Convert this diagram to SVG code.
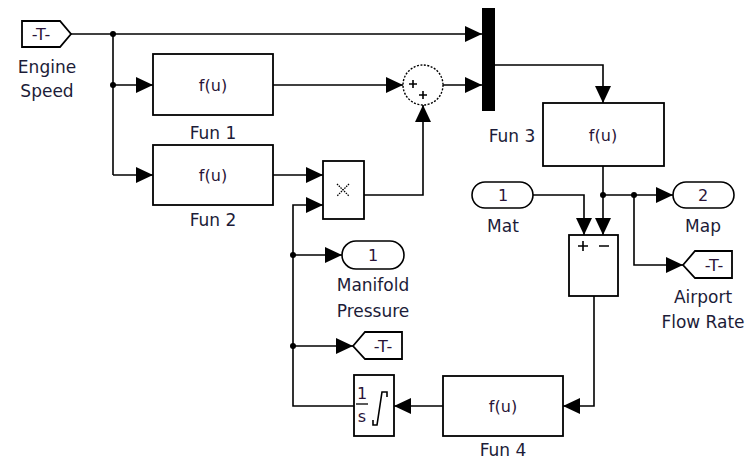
<svg xmlns="http://www.w3.org/2000/svg" width="751" height="461" viewBox="0 0 751 461">
<defs>
<style>
.blk{fill:#fff;stroke:#000;stroke-width:1.8}
.ln{fill:none;stroke:#000;stroke-width:1.6}
.lbl{font-family:"DejaVu Sans",sans-serif;font-size:17px;fill:#1c1c38;text-anchor:middle;dominant-baseline:central}
.in{font-family:"DejaVu Sans",sans-serif;font-size:16px;fill:#2a1438;text-anchor:middle;dominant-baseline:central}
.port{fill:#fff;stroke:#000;stroke-width:1.6}
.jn{fill:#000}
</style>
<marker id="ar" markerUnits="userSpaceOnUse" markerWidth="17" markerHeight="16" refX="17" refY="8" orient="auto">
<path d="M0,0 L17,8 L0,16 z" fill="#000"/>
</marker>
</defs>
<rect width="751" height="461" fill="#fff"/>

<g id="connectors">
<path class="ln" d="M71,34 H482" marker-end="url(#ar)"/>
<path class="ln" d="M113,34 V175"/>
<path class="ln" d="M113,85 H153" marker-end="url(#ar)"/>
<path class="ln" d="M113,175 H153" marker-end="url(#ar)"/>
<path class="ln" d="M273,85 H403" marker-end="url(#ar)"/>
<path class="ln" d="M443,85 H482" marker-end="url(#ar)"/>
<path class="ln" d="M273,175 H323" marker-end="url(#ar)"/>
<path class="ln" d="M364,195 H423 V105" marker-end="url(#ar)"/>
<path class="ln" d="M495,65 H603 V103" marker-end="url(#ar)"/>
<path class="ln" d="M603,166 V235" marker-end="url(#ar)"/>
<path class="ln" d="M603,195 H673" marker-end="url(#ar)"/>
<path class="ln" d="M634,195 V265 H683" marker-end="url(#ar)"/>
<path class="ln" d="M533,195 H584 V235" marker-end="url(#ar)"/>
<path class="ln" d="M594,296 V406 H563" marker-end="url(#ar)"/>
<path class="ln" d="M443,406 H394" marker-end="url(#ar)"/>
<path class="ln" d="M354,406 H293 V205 H323" marker-end="url(#ar)"/>
<path class="ln" d="M293,255 H342" marker-end="url(#ar)"/>
<path class="ln" d="M293,346 H353" marker-end="url(#ar)"/>
<circle class="jn" cx="113" cy="34" r="3"/>
<circle class="jn" cx="113" cy="85" r="3"/>
<circle class="jn" cx="603" cy="195" r="3"/>
<circle class="jn" cx="634" cy="195" r="3"/>
<circle class="jn" cx="293" cy="255" r="3"/>
<circle class="jn" cx="293" cy="346" r="3"/>
</g>

<g id="engine-speed">
<polygon class="blk" points="22,21 60,21 71,34 60,47 22,47"/>
<text class="in" x="41" y="34">-T-</text>
<text class="lbl" x="47" y="67">Engine</text>
<text class="lbl" x="47" y="91">Speed</text>
</g>

<g id="fun1">
<rect class="blk" x="153" y="54" width="120" height="61"/>
<text class="in" x="213" y="85">f(u)</text>
<text class="lbl" x="213" y="133">Fun 1</text>
</g>

<g id="fun2">
<rect class="blk" x="153" y="145" width="120" height="60"/>
<text class="in" x="213" y="175">f(u)</text>
<text class="lbl" x="213" y="220">Fun 2</text>
</g>

<g id="sum1">
<circle cx="423" cy="85" r="20" fill="#fff" stroke="#000" stroke-width="1.4" stroke-dasharray="2 1.5"/>
<path class="ln" d="M409,84 h8 M413,80 v8 M419,95 h8 M423,91 v8" stroke-width="1.3"/>
</g>

<g id="mux">
<rect x="482" y="8" width="13" height="103" fill="#000"/>
</g>

<g id="product">
<rect class="blk" x="323" y="161" width="41" height="58"/>
<path d="M337,184 L349,196 M349,184 L337,196" stroke="#000" stroke-width="1.3" stroke-dasharray="1.5 1"/>
</g>

<g id="fun3">
<rect class="blk" x="543" y="103" width="121" height="63"/>
<text class="in" x="603" y="135">f(u)</text>
<text class="lbl" x="512" y="136">Fun 3</text>
</g>

<g id="mat">
<rect class="port" x="472" y="182" width="61" height="26" rx="13"/>
<text class="in" x="503" y="195">1</text>
<text class="lbl" x="503" y="226">Mat</text>
</g>

<g id="map">
<rect class="port" x="673" y="182" width="61" height="26" rx="13"/>
<text class="in" x="703" y="195">2</text>
<text class="lbl" x="703" y="226">Map</text>
</g>

<g id="sum2">
<rect class="blk" x="569" y="235" width="49" height="61"/>
<path class="ln" d="M578,246 h10 M583,241 v10 M599,246 h10" stroke-width="1.5"/>
</g>

<g id="airport-flow-rate">
<polygon class="blk" points="683,265 695,251 732,251 732,278 695,278"/>
<text class="in" x="714" y="265">-T-</text>
<text class="lbl" x="703" y="297">Airport</text>
<text class="lbl" x="703" y="322">Flow Rate</text>
</g>

<g id="fun4">
<rect class="blk" x="443" y="376" width="120" height="60"/>
<text class="in" x="503" y="406">f(u)</text>
<text class="lbl" x="503" y="450">Fun 4</text>
</g>

<g id="integrator">
<rect class="blk" x="354" y="375" width="40" height="61"/>
<text class="in" x="362" y="393">1</text>
<path d="M356,404 H368" stroke="#000" stroke-width="1.3"/>
<text class="in" x="362" y="416">s</text>
<path class="ln" d="M387,397 V392 H382 L377,425 H373 V420" stroke-width="1.4"/>
</g>

<g id="manifold-pressure">
<rect class="port" x="342" y="241" width="62" height="28" rx="14"/>
<text class="in" x="373" y="255">1</text>
<text class="lbl" x="373" y="285">Manifold</text>
<text class="lbl" x="373" y="311">Pressure</text>
</g>

<g id="goto-t">
<polygon class="blk" points="353,346 365,332 402,332 402,359 365,359"/>
<text class="in" x="383" y="346">-T-</text>
</g>
</svg>
